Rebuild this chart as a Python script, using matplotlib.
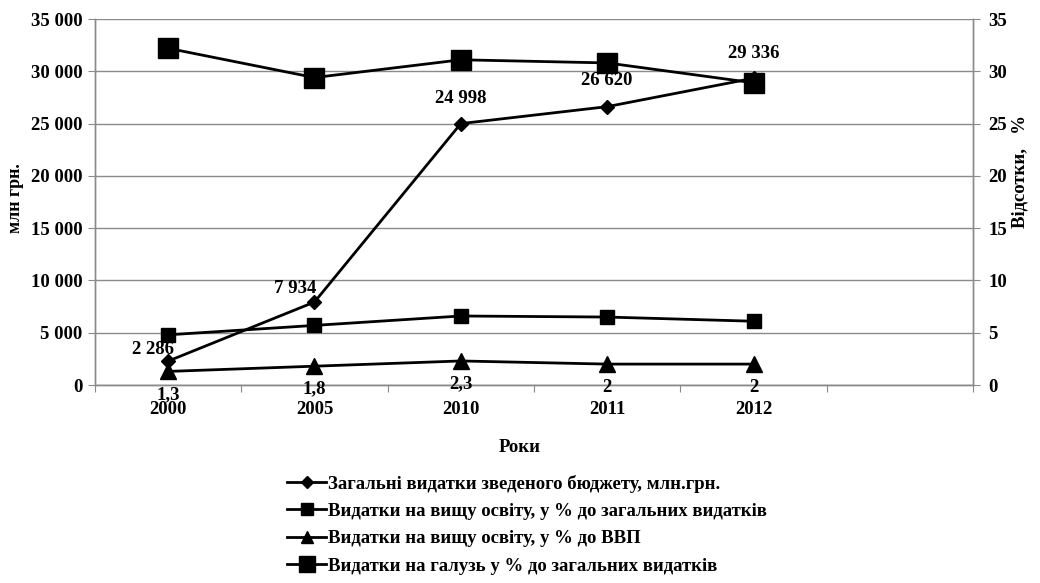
import matplotlib
matplotlib.use("Agg")
import matplotlib.pyplot as plt
from matplotlib.lines import Line2D

plt.rcParams['font.family'] = ['Liberation Serif', 'DejaVu Serif']
plt.rcParams['font.weight'] = 'bold'

years = ["2000", "2005", "2010", "2011", "2012", ""]
total_spend = [2286, 7934, 24998, 26620, 29336]
total_labels = ["2 286", "7 934", "24 998", "26 620", "29 336"]
higher_share = [4.8, 5.7, 6.6, 6.5, 6.1]
higher_gdp = [1.3, 1.8, 2.3, 2.0, 2.0]
higher_gdp_labels = ["1,3", "1,8", "2,3", "2", "2"]
sector_share = [32.2, 29.4, 31.1, 30.8, 28.9]
left_ticks = [0, 5000, 10000, 15000, 20000, 25000, 30000, 35000]
left_tick_labels = ["0", "5 000", "10 000", "15 000", "20 000", "25 000", "30 000", "35 000"]
right_ticks = [0, 5, 10, 15, 20, 25, 30, 35]
legend_labels = [
    "Загальні видатки зведеного бюджету, млн.грн.",
    "Видатки на вищу освіту, у % до загальних видатків",
    "Видатки на вищу освіту, у % до ВВП",
    "Видатки на галузь у % до загальних видатків",
]

FS = 13.5
fig = plt.figure(figsize=(10.4, 5.83), dpi=100)
ax = fig.add_axes([0.0913, 0.3396, 0.8443, 0.6278])
ax2 = ax.twinx()

x = list(range(len(total_spend)))
grey = "#8a8a8a"

ax.plot(x, total_spend, color="black", lw=2, marker="D", ms=7, zorder=3)
ax.set_ylim(0, 35000)
ax.set_xlim(-0.5, len(years) - 0.5)
ax.set_yticks(left_ticks)
ax.set_yticklabels(left_tick_labels, fontsize=FS, fontweight='bold')
ax.yaxis.grid(True, color=grey, lw=1)
ax.set_axisbelow(True)
ax.set_xticks([i - 0.5 for i in range(len(years) + 1)])
ax.set_xticklabels([])
ax.tick_params(axis='x', length=5, color=grey, direction='out')
ax.tick_params(axis='y', length=5, color=grey, pad=4)
for i, lab in enumerate(years):
    ax.text(i, -0.068, lab, transform=ax.get_xaxis_transform(), ha='center', va='center',
            fontsize=FS, fontweight='bold')

offsets = [(-11, 8), (-14, 10), (0, 18), (0, 19), (0, 18)]
for xi, v, lab, off in zip(x, total_spend, total_labels, offsets):
    ax.annotate(lab, (xi, v), xytext=off, textcoords='offset points', ha='center', va='center',
                fontsize=FS, fontweight='bold')

ax2.plot(x, higher_share, color="black", lw=2, marker="s", ms=10, zorder=3)
ax2.plot(x, higher_gdp, color="black", lw=2, marker="^", ms=11, zorder=3)
ax2.plot(x, sector_share, color="black", lw=2, marker="s", ms=14, zorder=4)
ax2.set_ylim(0, 35)
ax2.set_yticks(right_ticks)
ax2.set_yticklabels([str(t) for t in right_ticks], fontsize=FS, fontweight='bold')
ax2.tick_params(axis='y', length=5, color=grey, pad=6)
for xi, v, lab in zip(x, higher_gdp, higher_gdp_labels):
    ax2.annotate(lab, (xi, v), xytext=(0, -16.5), textcoords='offset points', ha='center', va='center',
                 fontsize=FS, fontweight='bold')

for a in (ax, ax2):
    a.spines['top'].set_visible(False)
    for s in ('left', 'right', 'bottom'):
        a.spines[s].set_color(grey)
        a.spines[s].set_linewidth(1)

fig.text(0.015, 0.66, "млн грн.", rotation=90, ha='center', va='center', fontsize=13, fontweight='bold')
fig.text(0.981, 0.705, "Відсотки,   %", rotation=90, ha='center', va='center', fontsize=13.5, fontweight='bold')
fig.text(0.5, 0.232, "Роки", ha='center', va='center', fontsize=FS, fontweight='bold')

handles = [
    Line2D([], [], color='black', lw=2, marker='D', ms=6),
    Line2D([], [], color='black', lw=2, marker='s', ms=8),
    Line2D([], [], color='black', lw=2, marker='^', ms=9),
    Line2D([], [], color='black', lw=2, marker='s', ms=12),
]
fig.legend(handles, legend_labels, loc='center left', bbox_to_anchor=(0.276, 0.1),
           frameon=False, prop={'size': FS, 'weight': 'bold'}, handlelength=2.1,
           handletextpad=0.1, labelspacing=0.55, borderpad=0, borderaxespad=0)

fig.savefig("out.png", dpi=100)
